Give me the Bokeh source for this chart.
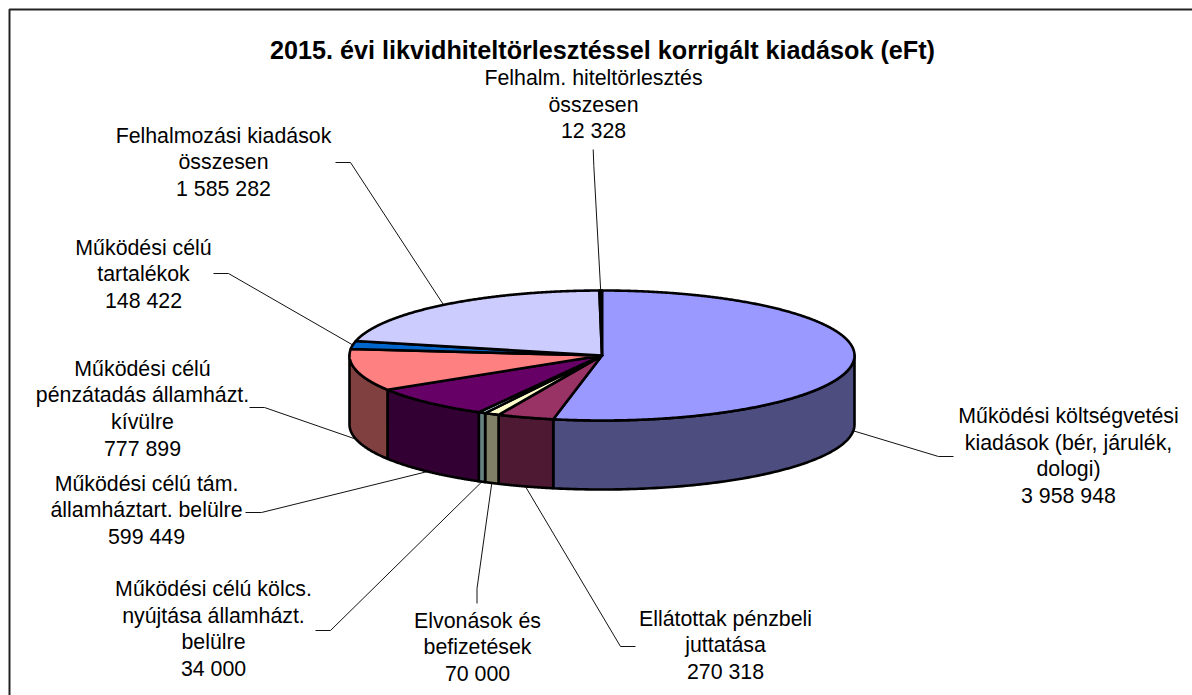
import numpy as np
from bokeh.plotting import figure
from bokeh.models import Range1d
from bokeh.core.properties import value
from bokeh.embed import file_html
from bokeh.resources import INLINE

title_text = "2015. évi likvidhiteltörlesztéssel korrigált kiadások (eFt)"
names = [
    "Működési költségvetési\nkiadások (bér, járulék,\ndologi)",
    "Ellátottak pénzbeli\njuttatása",
    "Elvonások és\nbefizetések",
    "Működési célú kölcs.\nnyújtása államházt.\nbelülre",
    "Működési célú tám.\nállamháztart. belülre",
    "Működési célú\npénzátadás államházt.\nkívülre",
    "Működési célú\ntartalékok",
    "Felhalmozási kiadások\nösszesen",
    "Felhalm. hiteltörlesztés\nösszesen",
]
values = [3958948, 270318, 70000, 34000, 599449, 777899, 148422, 1585282, 12328]
value_labels = ["3 958 948", "270 318", "70 000", "34 000", "599 449", "777 899", "148 422", "1 585 282", "12 328"]
top_colors = ["#9999FF", "#993366", "#FFFFCC", "#CCFFFF", "#660066", "#FF8080", "#0066CC", "#CCCCFF", "#000080"]
side_colors = ["#4D4D80", "#4D1933", "#808066", "#668080", "#330033", "#804040", "#003366", "#666680", "#000040"]

# Layout (page pixels)
CX, CY, RX, RY, DEPTH = 601.5, 355, 252.5, 65, 69
label_xy = [(1068, 415.5), (725, 618), (477, 620), (213, 588.5), (146, 483), (142, 368), (143, 247), (223, 135), (593, 77.5)]
elbows = [
    [(953, 456), (938, 456)],
    [(635, 646), (620, 646)],
    [(476.5, 603), (476.5, 588)],
    [(315, 630), (330, 630)],
    [(245, 512), (261, 512)],
    [(249, 407), (264, 407)],
    [(213, 273), (228, 273)],
    [(335, 162), (350, 162)],
    [(592.7, 149), (593.3, 165)],
]
LINE_H = 26.7
FONT = value("Liberation Sans")

p = figure(width=1192, height=695, output_backend="svg", toolbar_location=None,
           x_range=Range1d(0, 1192), y_range=Range1d(695, 0), min_border=0,
           outline_line_color=None, background_fill_color="white")
p.xaxis.visible = False
p.yaxis.visible = False
p.grid.visible = False

p.line([9, 9, 1192], [695, 9, 9], line_color="#222222", line_width=2)


def ell(t):
    t = np.radians(t)
    return CX + RX * np.sin(t), CY - RY * np.cos(t)


edges = np.cumsum([0] + values) / sum(values) * 360.0
mids = (edges[:-1] + edges[1:]) / 2

# leader lines
for m, e in zip(mids, elbows):
    ax, ay = ell(m)
    if 90 < m < 270:
        ay = ay + DEPTH
    xs = [e[0][0], e[1][0], ax]
    ys = [e[0][1], e[1][1], ay]
    p.line(xs, ys, line_color="#111111", line_width=1)

# side walls of the visible (front) half
for a, b, col in zip(edges[:-1], edges[1:], side_colors):
    lo, hi = max(a, 90), min(b, 270)
    if hi <= lo:
        continue
    x, y = ell(np.linspace(lo, hi, 120))
    p.patch(np.r_[x, x[::-1]], np.r_[y, y[::-1] + DEPTH], fill_color=col,
            line_color="black", line_width=2.6, line_join="round")

# top faces
for a, b, col in zip(edges[:-1], edges[1:], top_colors):
    x, y = ell(np.linspace(a, b, max(int(b - a) * 3, 6)))
    p.patch(np.r_[CX, x], np.r_[CY, y], fill_color=col,
            line_color="black", line_width=2.6, line_join="round")

# title and data labels
p.text([602], [49.5], text=[title_text], text_font=FONT, text_font_style="bold", text_font_size="25.2px",
       text_align="center", text_baseline="middle", text_color="black")
for (lx, ly), n, v in zip(label_xy, names, value_labels):
    lines = n.split("\n") + [v]
    for i, t in enumerate(lines):
        p.text([lx], [ly + i * LINE_H], text=[t], text_font=FONT, text_font_size="21.33px",
               text_align="center", text_baseline="middle", text_color="black")

open("out.html", "w").write(file_html(p, INLINE))
